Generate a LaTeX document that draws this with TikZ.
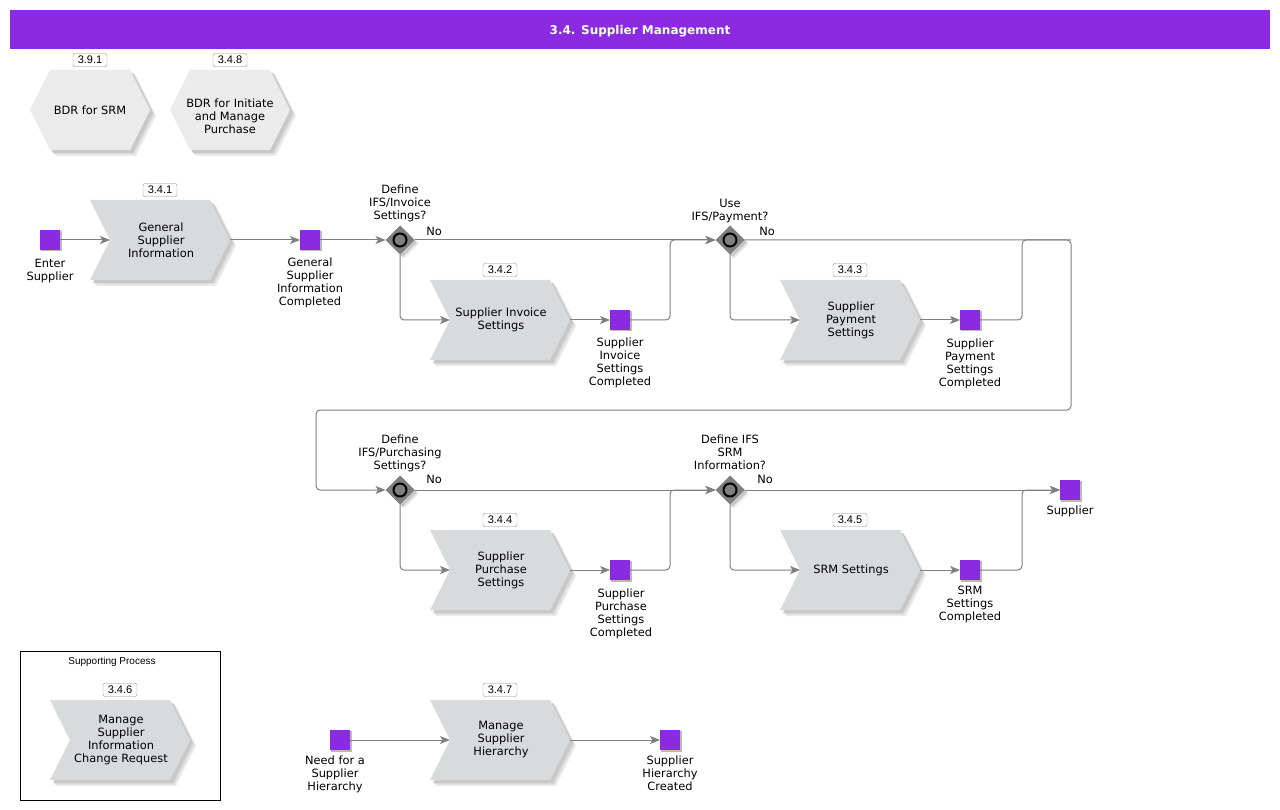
\documentclass[tikz,border=0pt]{standalone}
\usepackage{fontspec}
\setmainfont{DejaVu Sans}
\newfontfamily\arialf{Liberation Sans}
\usetikzlibrary{arrows.meta,shapes.geometric}
\definecolor{hdrpurple}{RGB}{138,43,226}
\definecolor{evtpurple}{RGB}{138,43,226}
\definecolor{evtshadow}{RGB}{185,185,185}
\definecolor{linegray}{RGB}{128,128,128}
\definecolor{chevfill}{RGB}{217,218,220}
\definecolor{hexfill}{RGB}{235,235,235}
\definecolor{shadowA}{RGB}{236,236,236}
\definecolor{shadowB}{RGB}{220,220,220}
\definecolor{shadowC}{RGB}{200,200,200}
\definecolor{gatefill}{RGB}{128,128,128}
\definecolor{numborder}{RGB}{140,140,140}
\tikzset{
  txt/.style={font=\fontsize{11.4}{13}\selectfont, align=center, inner sep=0pt, text=black},
  evt/.style={fill=evtpurple, minimum size=20pt, inner sep=0pt, outer sep=0pt},
  num/.style={draw=numborder, fill=white, rounded corners=2pt, minimum width=34pt, minimum height=13pt, inner sep=0pt, font=\arialf\fontsize{11}{12}\selectfont},
  gate/.style={diamond, fill=gatefill, minimum size=29pt, inner sep=0pt, outer sep=0pt},
  gateshadow/.style={diamond, minimum size=29pt, inner sep=0pt, outer sep=0pt},
  conn/.style={draw=linegray, line width=1pt, rounded corners=4pt},
  arr/.style={conn, -{Stealth[length=10pt,width=8pt,inset=2.5pt]}},
}
\newcommand\myevt[3]{%
  \fill[evtshadow] (#2-9,#3-9) rectangle (#2+11.5,#3+11.5);
  \node[evt] (#1) at (#2,#3) {};}
\newcommand\mygate[3]{%
  \node[gateshadow, fill=shadowA] (#1-sa) at (#2+4,#3+4) {};
  \node[gateshadow, fill=shadowC] (#1-sh) at (#2+2.5,#3+2.5) {};
  \node[gate] (#1) at (#2,#3) {};
  \draw[line width=2pt, fill=gatefill] (#1.center) circle (6.5);}
\newcommand\chevpath[3]{(#1-70+#3,#2-40+#3) -- (#1+50+#3,#2-40+#3) -- (#1+70+#3,#2+#3) -- (#1+50+#3,#2+40+#3) -- (#1-70+#3,#2+40+#3) -- (#1-50+#3,#2+#3) -- cycle}
\newcommand\hexpath[3]{(#1-60+#3,#2+#3) -- (#1-40+#3,#2-40+#3) -- (#1+40+#3,#2-40+#3) -- (#1+60+#3,#2+#3) -- (#1+40+#3,#2+40+#3) -- (#1-40+#3,#2+40+#3) -- cycle}
\newcommand\mychev[6]{% name, x, y, number, text, text y offset
  \fill[shadowA] \chevpath{#2}{#3}{6};
  \fill[shadowB] \chevpath{#2}{#3}{4.5};
  \fill[shadowC] \chevpath{#2}{#3}{3};
  \fill[chevfill] \chevpath{#2}{#3}{0};
  \node[txt] (#1) at (#2+1,#3+#6) {#5};
  \coordinate (#1-in) at (#2-50,#3);
  \coordinate (#1-out) at (#2+70,#3);
  \node[num] (#1-num) at (#2,#3-50) {#4};}
\newcommand\myhex[6]{% name, x, y, number, text, text y offset
  \fill[shadowA] \hexpath{#2}{#3}{6};
  \fill[shadowB] \hexpath{#2}{#3}{4.5};
  \fill[shadowC] \hexpath{#2}{#3}{3};
  \fill[hexfill] \hexpath{#2}{#3}{0};
  \node[txt] (#1) at (#2,#3+#6) {#5};
  \node[num] (#1-num) at (#2,#3-50) {#4};}
\begin{document}
\begin{tikzpicture}[x=1pt,y=-1pt]
\useasboundingbox (0,0) rectangle (1280,810);
\fill[white] (0,0) rectangle (1280,810);
% header
\fill[hdrpurple] (10,10) rectangle (1270,49);
\node[text=white, font=\bfseries\fontsize{12}{14}\selectfont, inner sep=0pt, anchor=base] (hdr) at (640,34.5) {3.4. Supplier Management};
% hexagons
\myhex{h1}{90}{110}{3.9.1}{BDR for SRM}{0}
\myhex{h2}{230}{110}{3.4.8}{BDR for Initiate\\and Manage\\Purchase}{6}
% supporting process box
\node[draw=black, line width=1pt, minimum width=200pt, minimum height=149pt, inner sep=0pt] (sp) at (120,725.5) {};
\node[font=\arialf\fontsize{10}{11}\selectfont, inner sep=0pt] (sptitle) at (112,662) {Supporting Process};
% chevrons
\mychev{c1}{160}{240}{3.4.1}{General\\Supplier\\Information}{0}
\mychev{c2}{500}{320}{3.4.2}{Supplier Invoice\\Settings}{0}
\mychev{c3}{850}{320}{3.4.3}{Supplier\\Payment\\Settings}{0}
\mychev{c4}{500}{570}{3.4.4}{Supplier\\Purchase\\Settings}{0}
\mychev{c5}{850}{570}{3.4.5}{SRM Settings}{0}
\mychev{c6}{120}{740}{3.4.6}{Manage\\Supplier\\Information\\Change Request}{0}
\mychev{c7}{500}{740}{3.4.7}{Manage\\Supplier\\Hierarchy}{0}
% events
\myevt{e1}{50}{240}
\myevt{e2}{310}{240}
\myevt{e3}{620}{320}
\myevt{e4}{970}{320}
\myevt{e5}{620}{570}
\myevt{e6}{970}{570}
\myevt{eS}{1070}{490}
\myevt{e7}{340}{740}
\myevt{e8}{670}{740}
% event labels
\node[txt, anchor=north] (e1t) at (50,258.5) {Enter\\Supplier};
\node[txt, anchor=north] (e2t) at (310,257.5) {General\\Supplier\\Information\\Completed};
\node[txt, anchor=north] (e3t) at (620,337.5) {Supplier\\Invoice\\Settings\\Completed};
\node[txt, anchor=north] (e4t) at (970,338.5) {Supplier\\Payment\\Settings\\Completed};
\node[txt, anchor=north] (e5t) at (621,588.5) {Supplier\\Purchase\\Settings\\Completed};
\node[txt, anchor=north] (e6t) at (970,585.5) {SRM\\Settings\\Completed};
\node[txt, anchor=north] (eSt) at (1070,505.5) {Supplier};
\node[txt, anchor=north] (e7t) at (335,755.5) {Need for a\\Supplier\\Hierarchy};
\node[txt, anchor=north] (e8t) at (670,755.5) {Supplier\\Hierarchy\\Created};
% gateways
\mygate{g1}{400}{240}
\mygate{g2}{730}{240}
\mygate{g3}{400}{490}
\mygate{g4}{730}{490}
\node[txt, anchor=north] (g1t) at (400,184.5) {Define\\IFS/Invoice\\Settings?};
\node[txt, anchor=north] (g2t) at (730,198.5) {Use\\IFS/Payment?};
\node[txt, anchor=north] (g3t) at (400,434.5) {Define\\IFS/Purchasing\\Settings?};
\node[txt, anchor=north] (g4t) at (730,434.5) {Define IFS\\SRM\\Information?};
\node[txt] (no1) at (434,231) {No};
\node[txt] (no2) at (767,231) {No};
\node[txt] (no3) at (434,479) {No};
\node[txt] (no4) at (765,479) {No};
% junction coordinates
\coordinate (j1) at (670,240);
\coordinate (j2) at (1022,240);
\coordinate (k1) at (1071,240);
\coordinate (k2) at (1071,410);
\coordinate (k3) at (316,410);
\coordinate (k4) at (316,490);
\coordinate (j3) at (670,490);
\coordinate (j4) at (1022,490);
% connectors
\draw[arr] (e1) -- (c1-in);
\draw[arr] (c1-out) -- (e2);
\draw[arr] (e2) -- (g1);
\draw[arr] (g1) -- (g2);
\draw[arr] (g1.south) |- (c2-in);
\draw[arr] (c2-out) -- (e3);
\draw[arr] (e3) -| (j1) -- (g2);
\draw[arr] (g2.east) -- (k1) -- (k2) -- (k3) -- (k4) -- (g3);
\draw[arr] (g2.south) |- (c3-in);
\draw[arr] (c3-out) -- (e4);
\draw[conn] (e4) -| (j2) -- (k1);
\draw[arr] (g3) -- (g4);
\draw[arr] (g3.south) |- (c4-in);
\draw[arr] (c4-out) -- (e5);
\draw[arr] (e5) -| (j3) -- (g4);
\draw[arr] (g4) -- (eS);
\draw[arr] (g4.south) |- (c5-in);
\draw[arr] (c5-out) -- (e6);
\draw[arr] (e6) -| (j4) -- (eS);
\draw[arr] (e7) -- (c7-in);
\draw[arr] (c7-out) -- (e8);
\end{tikzpicture}
\end{document}
